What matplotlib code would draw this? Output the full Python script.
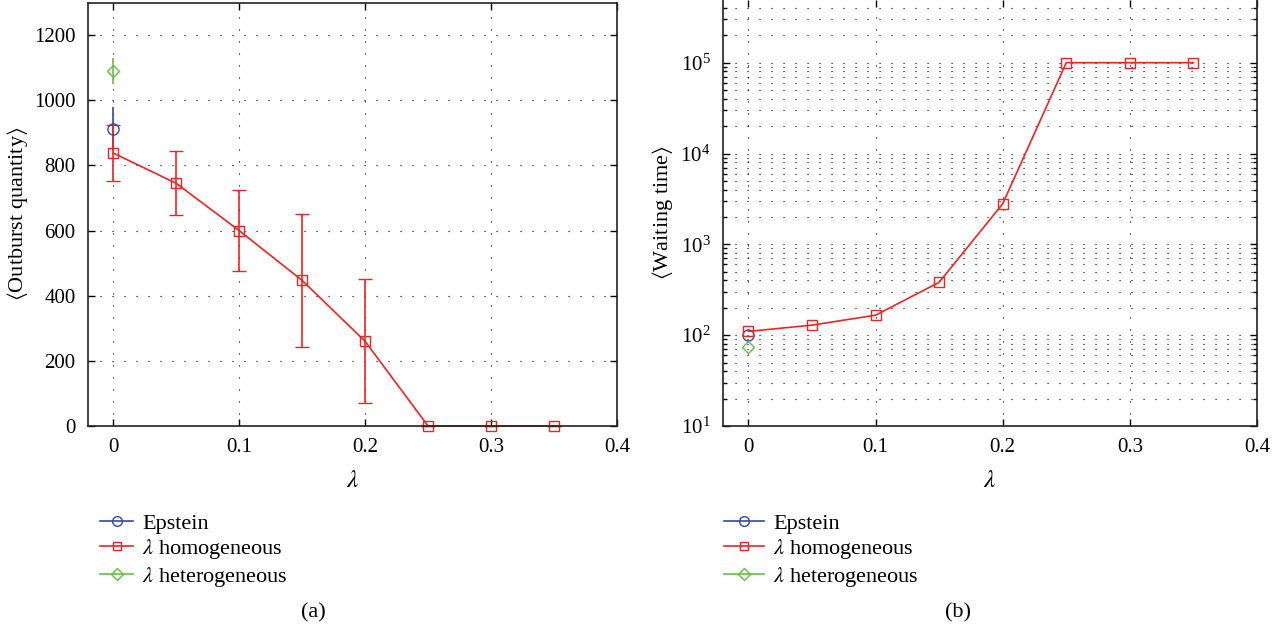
import numpy as np
import matplotlib
matplotlib.use("Agg")
import matplotlib.pyplot as plt
from matplotlib.lines import Line2D
from matplotlib.ticker import LogLocator, NullFormatter

# data
lam = [0.0, 0.05, 0.10, 0.15, 0.20, 0.25, 0.30, 0.35]
outburst_hom = [838, 745, 600, 447, 260, 0, 0, 0]
outburst_hom_err = [86, 98, 125, 203, 190, 0, 0, 0]
outburst_eps = [913]
outburst_eps_err = [67]
outburst_het = [1090]
outburst_het_err = [40]

wait_hom = [110, 129, 166, 382, 2800, 1.0e5, 1.0e5, 1.0e5]
wait_eps = [100]
wait_het = [74]

lam0 = [0.0]
labels = ["Epstein", r"$\lambda$ homogeneous", r"$\lambda$ heterogeneous"]

RED = "#ee2424"
BLUE = "#3548a6"
GREEN = "#68bd45"

plt.rcParams["font.family"] = ["Liberation Serif", "DejaVu Serif"]
plt.rcParams["mathtext.fontset"] = "stix"
plt.rcParams["font.size"] = 14

W, H = 1283, 635
fig = plt.figure(figsize=(W / 100, H / 100), dpi=100)


def box(x0, y0, x1, y1):
    return [x0 / W, 1 - y1 / H, (x1 - x0) / W, (y1 - y0) / H]


ax1 = fig.add_axes(box(88, 2.5, 617, 426))
ax2 = fig.add_axes(box(723, 0, 1257, 426))

dots = (0, (1, 9.8))
for ax in (ax1, ax2):
    ax.tick_params(direction="in", which="both", top=True, right=True,
                   length=5, width=1, labelsize=15, pad=9)
    ax.tick_params(which="minor", length=3)
    for s in ax.spines.values():
        s.set_linewidth(1.2)
        s.set_color("#222222")
    ax.set_xlim(-0.02, 0.4)
    ax.set_xticks([0, 0.1, 0.2, 0.3, 0.4])
    ax.set_xticklabels(["0", "0.1", "0.2", "0.3", "0.4"])
    ax.set_xlabel(r"$\lambda$", fontsize=18, labelpad=9)

# (a) outburst quantity
ax1.grid(True, which="major", color="k", lw=0.8, linestyle=dots)
ax1.errorbar(lam0, outburst_eps, yerr=outburst_eps_err, color=BLUE,
             marker="o", mfc="none", ms=8, capsize=0, lw=1.2)
ax1.errorbar(lam, outburst_hom, yerr=outburst_hom_err, color=RED,
             marker="s", mfc="none", ms=7, capsize=5, lw=1.2, clip_on=False)
ax1.errorbar(lam0, outburst_het, yerr=outburst_het_err, color=GREEN,
             marker="D", mfc="none", ms=6, capsize=0, lw=1.2)
ax1.set_ylim(0, 1300)
ax1.set_yticks([0, 200, 400, 600, 800, 1000, 1200])
ax1.set_ylabel(r"$\langle$Outburst quantity$\rangle$", fontsize=16,
               labelpad=3)

# (b) waiting time
ax2.set_yscale("log")
ax2.plot(lam0, wait_eps, color=BLUE, marker="o", mfc="none", ms=8, lw=1.2)
ax2.plot(lam, wait_hom, color=RED, marker="s", mfc="none", ms=7, lw=1.2,
         clip_on=False)
ax2.plot(lam0, wait_het, color=GREEN, marker="D", mfc="none", ms=6, lw=1.2)
ax2.set_ylim(10, 10 ** 5.69)
ax2.yaxis.set_major_locator(LogLocator(base=10, numticks=10))
ax2.yaxis.set_minor_locator(LogLocator(base=10, subs=np.arange(2, 10),
                                       numticks=20))
ax2.yaxis.set_minor_formatter(NullFormatter())
ax2.grid(True, which="major", color="k", lw=0.8, linestyle=dots)
ax2.grid(True, which="minor", axis="y", color="k", lw=0.8, linestyle=dots)
ax2.spines["top"].set_visible(False)
ax2.set_ylabel(r"$\langle$Waiting time$\rangle$", fontsize=16, labelpad=4)

handles = [Line2D([], [], color=c, marker=m, mfc="none", ms=s, lw=1.2)
           for c, m, s in ((BLUE, "o", 7), (RED, "s", 6), (GREEN, "D", 6))]
for ax, x0, hl in ((ax1, 100, 1.5), (ax2, 724, 1.8)):
    ax.legend(handles, labels, loc="upper left",
              bbox_to_anchor=(x0 / W, 1 - 513 / H),
              bbox_transform=fig.transFigure, frameon=False, fontsize=16,
              handlelength=hl, handletextpad=0.4, labelspacing=0.16,
              borderaxespad=0, borderpad=0)

fig.text(313 / W, 1 - 613 / H, "(a)", ha="center", va="center", fontsize=16)
fig.text(958 / W, 1 - 613 / H, "(b)", ha="center", va="center", fontsize=16)

fig.savefig("out.png", dpi=100)
